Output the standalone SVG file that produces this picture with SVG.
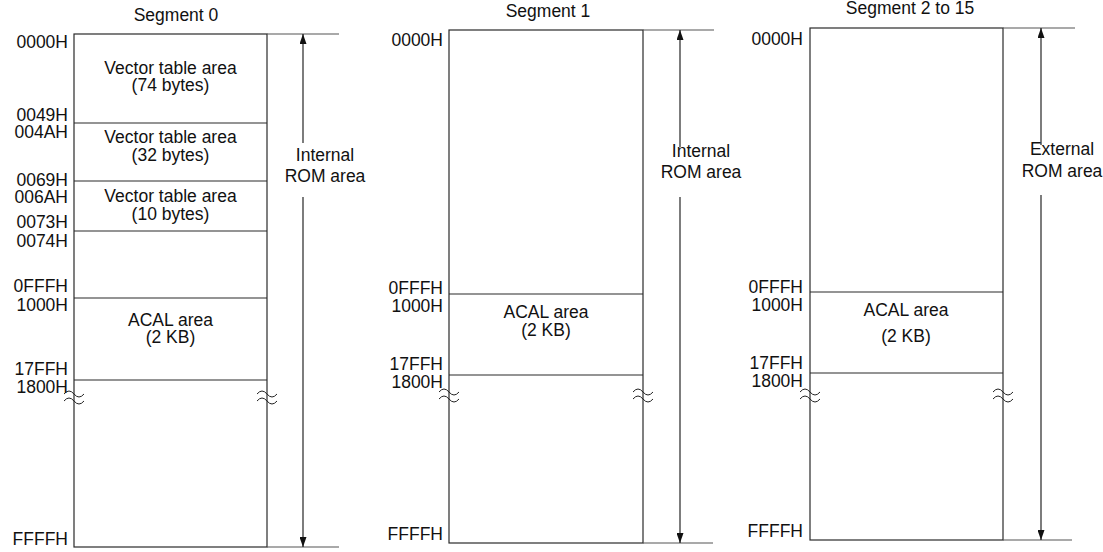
<svg xmlns="http://www.w3.org/2000/svg" width="1103" height="552" viewBox="0 0 1103 552">
<style>
text{font-family:"Liberation Sans",Arial,sans-serif;font-size:17.5px;fill:#111}
.a{text-anchor:end}
.c{text-anchor:middle}
.box{fill:none;stroke:#2a2a2a;stroke-width:1.2}
.div{stroke:#2a2a2a;stroke-width:1.2}
.ext{stroke:#555;stroke-width:1.2}
.arr{stroke:#111;stroke-width:1.1;fill:none;marker-end:url(#ah)}
.brk{fill:none;stroke:#222;stroke-width:1}
</style>
<defs>
<marker id="ah" viewBox="0 0 10 7" refX="10" refY="3.5" markerWidth="10" markerHeight="7" markerUnits="userSpaceOnUse" orient="auto">
<path d="M0,0 L10,3.5 L0,7 z" fill="#111"/>
</marker>
<g id="brkmark">
<path class="brk" d="M-10,-2 q5,-6 10,0 t10,0"/>
<path class="brk" d="M-10,5 q5,-6 10,0 t10,0"/>
</g>
</defs>

<g id="segment0">
<text class="c" x="176" y="21">Segment 0</text>
<rect class="box" x="74" y="34" width="193" height="513"/>
<g id="s0-vec74">
<text class="c" x="170.5" y="74">Vector table area</text>
<text class="c" x="170.5" y="91">(74 bytes)</text>
</g>
<line class="div" x1="74" y1="123" x2="267" y2="123"/>
<g id="s0-vec32">
<text class="c" x="170.5" y="143">Vector table area</text>
<text class="c" x="170.5" y="161">(32 bytes)</text>
</g>
<line class="div" x1="74" y1="181" x2="267" y2="181"/>
<g id="s0-vec10">
<text class="c" x="170.5" y="202">Vector table area</text>
<text class="c" x="170.5" y="220">(10 bytes)</text>
</g>
<line class="div" x1="74" y1="231" x2="267" y2="231"/>
<line class="div" x1="74" y1="298" x2="267" y2="298"/>
<g id="s0-acal">
<text class="c" x="170.5" y="326">ACAL area</text>
<text class="c" x="170.5" y="343">(2 KB)</text>
</g>
<line class="div" x1="74" y1="380" x2="267" y2="380"/>
<use href="#brkmark" x="74" y="396"/>
<use href="#brkmark" x="267" y="396"/>
<text class="a" x="68" y="48">0000H</text>
<text class="a" x="68" y="121">0049H</text>
<text class="a" x="68" y="138">004AH</text>
<text class="a" x="68" y="186">0069H</text>
<text class="a" x="68" y="203">006AH</text>
<text class="a" x="68" y="228">0073H</text>
<text class="a" x="68" y="247">0074H</text>
<text class="a" x="68" y="292">0FFFH</text>
<text class="a" x="68" y="311">1000H</text>
<text class="a" x="68" y="375">17FFH</text>
<text class="a" x="68" y="393">1800H</text>
<text class="a" x="68" y="545">FFFFH</text>
<text class="c" x="325" y="161">Internal</text>
<text class="c" x="325" y="182">ROM area</text>
</g>

<g id="segment1">
<text class="c" x="548" y="17">Segment 1</text>
<rect class="box" x="449" y="30" width="194" height="513"/>
<line class="div" x1="449" y1="294" x2="643" y2="294"/>
<g id="s1-acal">
<text class="c" x="546" y="318">ACAL area</text>
<text class="c" x="546" y="336">(2 KB)</text>
</g>
<line class="div" x1="449" y1="375" x2="643" y2="375"/>
<use href="#brkmark" x="449" y="394"/>
<use href="#brkmark" x="643" y="394"/>
<text class="a" x="443" y="46">0000H</text>
<text class="a" x="443" y="294">0FFFH</text>
<text class="a" x="443" y="312">1000H</text>
<text class="a" x="443" y="370">17FFH</text>
<text class="a" x="443" y="388">1800H</text>
<text class="a" x="443" y="540">FFFFH</text>
<text class="c" x="701" y="157">Internal</text>
<text class="c" x="701" y="178">ROM area</text>
</g>

<g id="segment2">
<text class="c" x="910" y="14">Segment 2 to 15</text>
<rect class="box" x="810" y="28" width="193" height="512"/>
<line class="div" x1="810" y1="292" x2="1003" y2="292"/>
<g id="s2-acal">
<text class="c" x="906" y="316">ACAL area</text>
<text class="c" x="906" y="342">(2 KB)</text>
</g>
<line class="div" x1="810" y1="373" x2="1003" y2="373"/>
<use href="#brkmark" x="810" y="394"/>
<use href="#brkmark" x="1003" y="394"/>
<text class="a" x="803" y="45">0000H</text>
<text class="a" x="803" y="293">0FFFH</text>
<text class="a" x="803" y="311">1000H</text>
<text class="a" x="803" y="369">17FFH</text>
<text class="a" x="803" y="387">1800H</text>
<text class="a" x="803" y="537">FFFFH</text>
<text class="c" x="1062" y="155">External</text>
<text class="c" x="1062" y="177">ROM area</text>
</g>

<g id="connectors">
<line class="ext" x1="267" y1="34" x2="339" y2="34"/>
<line class="ext" x1="267" y1="547" x2="339" y2="547"/>
<line class="arr" x1="303" y1="143" x2="303" y2="34"/>
<line class="arr" x1="303" y1="197" x2="303" y2="547"/>
<line class="ext" x1="643" y1="30" x2="714" y2="30"/>
<line class="ext" x1="643" y1="543" x2="713" y2="543"/>
<line class="arr" x1="680" y1="147" x2="680" y2="30"/>
<line class="arr" x1="680" y1="197" x2="680" y2="543"/>
<line class="ext" x1="1003" y1="28" x2="1075" y2="28"/>
<line class="ext" x1="1003" y1="540" x2="1072" y2="540"/>
<line class="arr" x1="1041" y1="145" x2="1041" y2="28"/>
<line class="arr" x1="1041" y1="195" x2="1041" y2="540"/>
</g>
</svg>
